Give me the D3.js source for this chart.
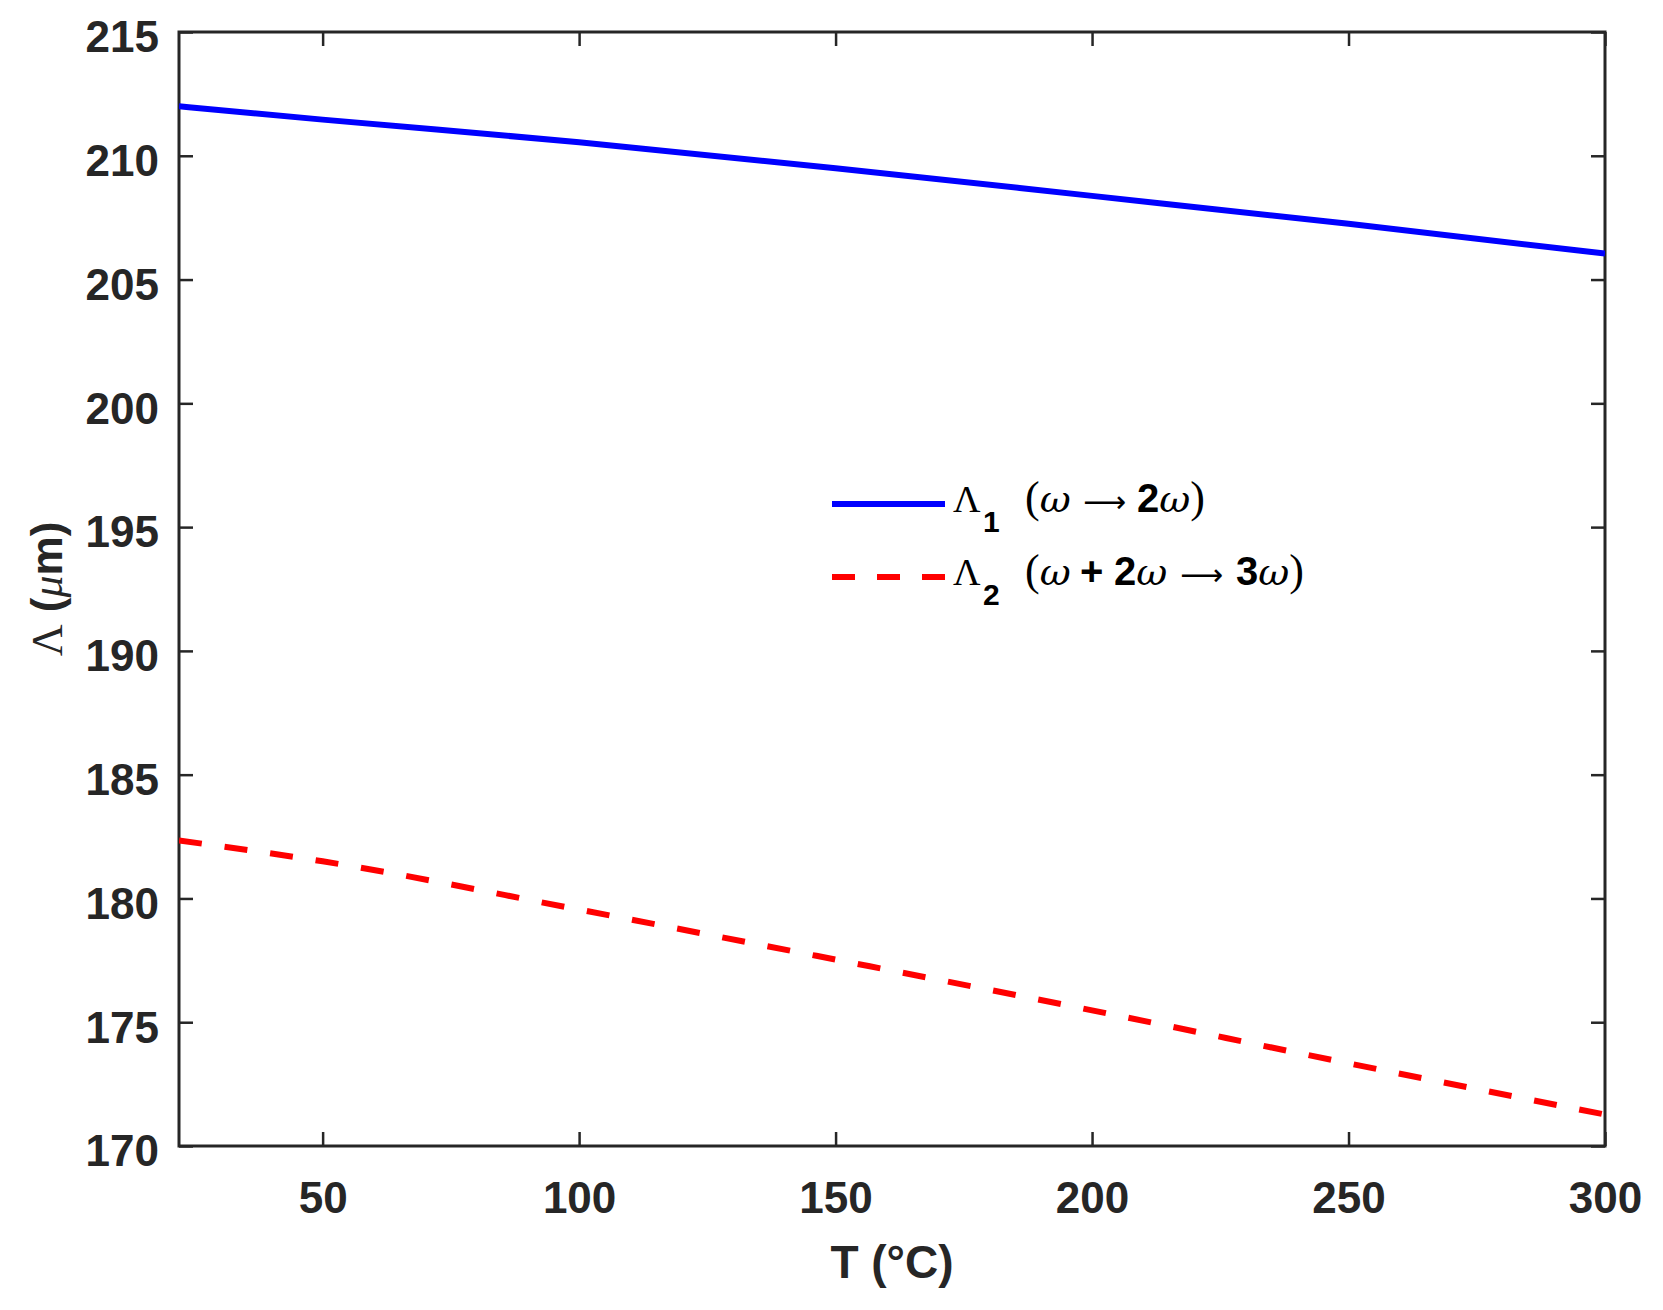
<!DOCTYPE html>
<html>
<head>
<meta charset="utf-8">
<script src="https://cdn.jsdelivr.net/npm/d3@7"></script>
<style>
  body { margin: 0; background: #fff; }
</style>
</head>
<body>
<div id="chart"></div>
<script>
// data
var temps = [22, 50, 100, 150, 200, 250, 300];
var lambda1 = [212.0, 211.46, 210.55, 209.5, 208.38, 207.25, 206.05];
var lambda2 = [182.34, 181.5, 179.55, 177.53, 175.48, 173.34, 171.27];
var xTicks = [50, 100, 150, 200, 250, 300];
var yTicks = [170, 175, 180, 185, 190, 195, 200, 205, 210, 215];

var margin = { top: 32, right: 58, bottom: 164, left: 179 },
    width = 1663 - margin.left - margin.right,
    height = 1310 - margin.top - margin.bottom;

var svg = d3.select("#chart")
    .append("svg")
    .attr("width", 1663)
    .attr("height", 1310)
    .style("font-family", "'Liberation Sans', Arial, sans-serif");

var g = svg.append("g")
    .attr("transform", "translate(" + margin.left + "," + margin.top + ")");

var x = d3.scaleLinear().domain([22, 300]).range([0, width]);
var y = d3.scaleLinear().domain([170, 215]).range([height, 0]);

var axisColor = "#262626";

// axes with inward ticks on all four sides
function styleAxis(sel, showLabels) {
    sel.select(".domain").remove();
    sel.selectAll(".tick line").attr("stroke", axisColor).attr("stroke-width", 2.5);
    if (!showLabels) sel.selectAll(".tick text").remove();
    else sel.selectAll(".tick text")
        .attr("fill", axisColor)
        .style("font-size", "44px")
        .style("font-weight", "bold");
}

g.append("g")
    .attr("transform", "translate(0," + height + ")")
    .call(d3.axisBottom(x).tickValues(xTicks).tickSize(-14).tickPadding(36))
    .call(function(s) { styleAxis(s, true); });

g.append("g")
    .call(d3.axisTop(x).tickValues(xTicks).tickSize(-14))
    .call(function(s) { styleAxis(s, false); });

g.append("g")
    .call(d3.axisLeft(y).tickValues(yTicks).tickSize(-14).tickPadding(20))
    .call(function(s) { styleAxis(s, true); })
    .selectAll(".tick text").attr("dy", "0.45em");

g.append("g")
    .attr("transform", "translate(" + width + ",0)")
    .call(d3.axisRight(y).tickValues(yTicks).tickSize(-14))
    .call(function(s) { styleAxis(s, false); });

// frame
g.append("rect")
    .attr("width", width)
    .attr("height", height)
    .attr("fill", "none")
    .attr("stroke", axisColor)
    .attr("stroke-width", 3);

// clip
g.append("clipPath").attr("id", "clip")
    .append("rect").attr("width", width).attr("height", height);

var line1 = d3.line()
    .x(function(d, i) { return x(temps[i]); })
    .y(function(d) { return y(d); })
    .curve(d3.curveMonotoneX);

g.append("path")
    .datum(lambda1)
    .attr("clip-path", "url(#clip)")
    .attr("d", line1)
    .attr("fill", "none")
    .attr("stroke", "#0000ff")
    .attr("stroke-width", 6);

g.append("path")
    .datum(lambda2)
    .attr("clip-path", "url(#clip)")
    .attr("d", line1)
    .attr("fill", "none")
    .attr("stroke", "#ff0000")
    .attr("stroke-width", 6)
    .attr("stroke-dasharray", "23,23");

// axis labels
svg.append("text")
    .attr("x", margin.left + width / 2)
    .attr("y", 1278)
    .attr("text-anchor", "middle")
    .attr("fill", axisColor)
    .style("font-size", "46px")
    .style("font-weight", "bold")
    .text("T (°C)");

var yl = svg.append("text")
    .attr("transform", "translate(62," + (margin.top + height / 2) + ") rotate(-90)")
    .attr("text-anchor", "middle")
    .attr("fill", axisColor)
    .style("font-size", "44px")
    .style("font-weight", "bold");
yl.append("tspan").style("font-family", "'Liberation Serif', serif").style("font-weight", "normal").text("Λ");
yl.append("tspan").text(" (");
yl.append("tspan").style("font-family", "'Liberation Serif', serif").style("font-style", "italic").style("font-weight", "normal").text("μ");
yl.append("tspan").text("m)");

// legend
var legend = [
    { color: "#0000ff", dash: null, sub: "1",
      parts: [["(", 1025], ["ω"], ["⟶", 1083], ["2", 1137], ["ω"], [")"]] },
    { color: "#ff0000", dash: "23,22", sub: "2",
      parts: [["(", 1025], ["ω"], ["+", 1080], ["2", 1114], ["ω"], ["⟶", 1180], ["3", 1236], ["ω"], [")"]] }
];
var legY = [504, 577];

legend.forEach(function(d, i) {
    svg.append("line")
        .attr("x1", 832).attr("x2", 945)
        .attr("y1", legY[i]).attr("y2", legY[i])
        .attr("stroke", d.color)
        .attr("stroke-width", 6)
        .attr("stroke-dasharray", d.dash);

    var base = legY[i] + 8;
    var t = svg.append("text")
        .attr("fill", "#000")
        .style("font-size", "38px");
    t.append("tspan").attr("x", 953).attr("y", base)
        .style("font-family", "'Liberation Serif', serif").style("font-size", "38px").text("Λ");
    t.append("tspan").attr("x", 983).attr("y", base + 20)
        .style("font-size", "30px").style("font-weight", "bold").text(d.sub);
    d.parts.forEach(function(p, k) {
        var sp = t.append("tspan");
        if (k === 0) sp.attr("y", base);
        if (p[1] !== undefined) sp.attr("x", p[1]);
        var s = p[0];
        if (s === "ω") sp.style("font-family", "'DejaVu Serif', serif").style("font-style", "italic").style("font-size", "38px");
        else if (s === "(" || s === ")") sp.style("font-family", "'Liberation Serif', serif").style("font-size", "44px");
        else if (s === "⟶") sp.style("font-family", "'DejaVu Sans', sans-serif").style("font-size", "30px");
        else sp.style("font-weight", "bold").style("font-size", "40px");
        sp.text(s);
    });
});
</script>
</body>
</html>
